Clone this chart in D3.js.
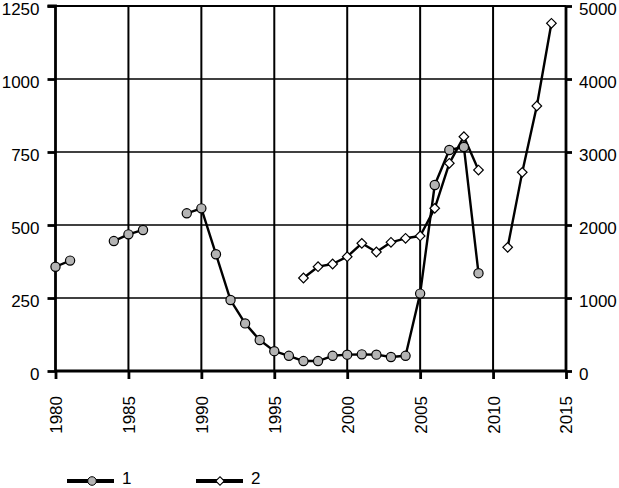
<!DOCTYPE html>
<html>
<head>
<meta charset="utf-8">
<script src="https://cdn.jsdelivr.net/npm/d3@7"></script>
<style>
  html, body { margin: 0; padding: 0; background: #fff; }
  svg { display: block; }
  text { font-family: "Liberation Sans", Arial, sans-serif; font-size: 17px; fill: #000; }
</style>
</head>
<body>
<svg id="chart" width="619" height="488"></svg>
<script>
const years = [1980,1981,1982,1983,1984,1985,1986,1987,1988,1989,1990,1991,1992,1993,1994,1995,1996,1997,1998,1999,2000,2001,2002,2003,2004,2005,2006,2007,2008,2009,2010,2011,2012,2013,2014];
const series1 = [357,378,null,null,445,468,483,null,null,540,557,400,243,163,106,68,52,34,34,52,56,57,56,48,52,265,637,757,767,335,null,null,null,null,null];
const series2 = [null,null,null,null,null,null,null,null,null,null,null,null,null,null,null,null,null,1274,1429,1466,1566,1749,1630,1763,1818,1850,2228,2845,3210,2753,null,1694,2721,3630,4763];
const xTicks = [1980,1985,1990,1995,2000,2005,2010,2015];
const leftTicks = [0,250,500,750,1000,1250];
const rightTicks = [0,1000,2000,3000,4000,5000];
const legendLabels = ["1","2"];

const svg = d3.select("#chart");
const x = d3.scaleLinear().domain([1980, 2015]).range([55.5, 566]);
const yL = d3.scaleLinear().domain([0, 1250]).range([371, 6]);
const yR = d3.scaleLinear().domain([0, 5000]).range([371, 6]);

// grid
const grid = svg.append("g");
grid.selectAll("line.h").data(leftTicks.filter(d => d > 0)).join("line")
  .attr("x1", x(1980)).attr("x2", x(2015))
  .attr("y1", d => yL(d)).attr("y2", d => yL(d))
  .attr("stroke", "#000").attr("stroke-width", d => d === 1250 ? 2.2 : 1.4);
grid.selectAll("line.v").data(xTicks.filter(d => d > 1980 && d < 2015)).join("line")
  .attr("x1", d => x(d)).attr("x2", d => x(d))
  .attr("y1", yL(1250)).attr("y2", yL(0))
  .attr("stroke", "#000").attr("stroke-width", 2);

// axes
const axL = svg.append("g").attr("transform", `translate(${x(1980)},0)`)
  .call(d3.axisLeft(yL).tickValues(leftTicks).tickSize(8).tickPadding(8).tickFormat(d3.format("d")));
const axR = svg.append("g").attr("transform", `translate(${x(2015)},0)`)
  .call(d3.axisRight(yR).tickValues(rightTicks).tickSize(6).tickPadding(7).tickFormat(d3.format("d")));
const axB = svg.append("g").attr("transform", `translate(0,${yL(0)})`)
  .call(d3.axisBottom(x).tickValues(xTicks).tickSize(8).tickFormat(d3.format("d")));
axB.selectAll("text")
  .attr("transform", "rotate(-90)")
  .attr("x", -25).attr("y", 0).attr("dy", "0.35em")
  .attr("text-anchor", "end");
axL.selectAll("text").attr("dy", "0.52em");
axR.selectAll("text").attr("dy", "0.48em");
[axL, axR, axB].forEach(a => {
  a.select(".domain").attr("stroke", "#000").attr("stroke-width", 2.8);
  a.selectAll(".tick line").attr("stroke", "#000").attr("stroke-width", 2.8);
  a.selectAll("text").style("font-family", '"Liberation Sans", Arial, sans-serif').style("font-size", "17px").attr("fill", "#000");
});
axL.select(".domain").attr("d", `M-8,${yL(1250)}H0V${yL(0)}`);
axR.select(".domain").attr("d", `M0,${yL(1250)}V${yL(0)}`);
axB.select(".domain").attr("d", `M${x(1980)},0H${x(2015)}`);

// data
const d1 = years.map((yr, i) => ({yr, v: series1[i]}));
const d2 = years.map((yr, i) => ({yr, v: series2[i]}));
const line1 = d3.line().defined(d => d.v != null).x(d => x(d.yr)).y(d => yL(d.v));
const line2 = d3.line().defined(d => d.v != null).x(d => x(d.yr)).y(d => yR(d.v));

svg.append("path").datum(d1).attr("d", line1).attr("fill", "none").attr("stroke", "#000").attr("stroke-width", 2.4).attr("stroke-linejoin", "round");
svg.append("path").datum(d2).attr("d", line2).attr("fill", "none").attr("stroke", "#000").attr("stroke-width", 2.4).attr("stroke-linejoin", "round");

svg.append("g").selectAll("circle").data(d1.filter(d => d.v != null)).join("circle")
  .attr("cx", d => x(d.yr)).attr("cy", d => yL(d.v)).attr("r", 4.6)
  .attr("fill", "#b4b4b4").attr("stroke", "#000").attr("stroke-width", 1.2);
svg.append("g").selectAll("path").data(d2.filter(d => d.v != null)).join("path")
  .attr("transform", d => `translate(${x(d.yr)},${yR(d.v)}) rotate(45)`)
  .attr("d", d3.symbol().type(d3.symbolSquare).size(46))
  .attr("fill", "#fff").attr("stroke", "#000").attr("stroke-width", 1.2);

// legend
const lg = svg.append("g");
const lgX = [67, 196];
lgX.forEach((lx, i) => {
  lg.append("line").attr("x1", lx).attr("x2", lx + 47).attr("y1", 481).attr("y2", 481)
    .attr("stroke", "#000").attr("stroke-width", 4);
  if (i === 0) {
    lg.append("circle").attr("cx", lx + 25).attr("cy", 481).attr("r", 4.3)
      .attr("fill", "#b4b4b4").attr("stroke", "#000").attr("stroke-width", 1);
  } else {
    lg.append("path").attr("transform", `translate(${lx + 24},481) rotate(45)`)
      .attr("d", d3.symbol().type(d3.symbolSquare).size(36))
      .attr("fill", "#fff").attr("stroke", "#000").attr("stroke-width", 1.1);
  }
  lg.append("text").attr("x", lx + 55).attr("y", 484.3).text(legendLabels[i]);
});
</script>
</body>
</html>
